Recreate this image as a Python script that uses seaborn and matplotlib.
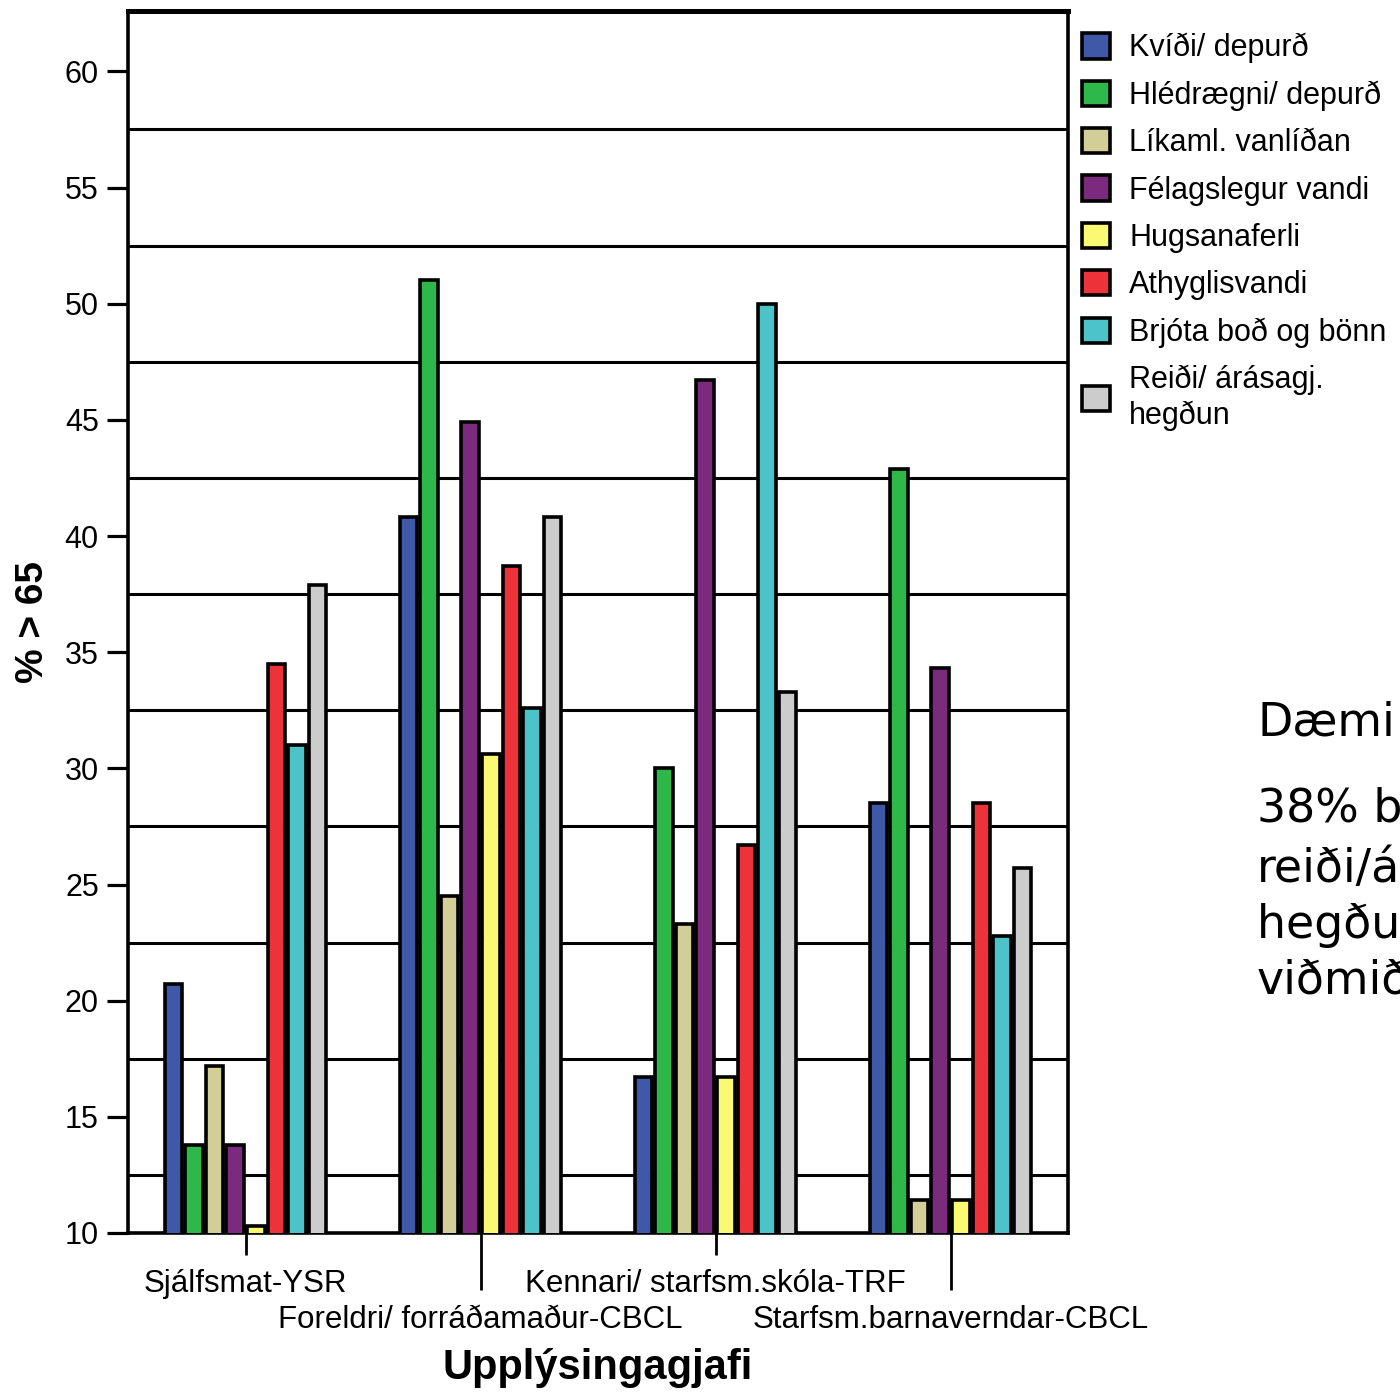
import matplotlib
matplotlib.use('Agg')
import matplotlib.pyplot as plt
import seaborn as sns
import pandas as pd

# Data (% > 65)
groups = ['Sjálfsmat-YSR', 'Foreldri/ forráðamaður-CBCL',
          'Kennari/ starfsm.skóla-TRF', 'Starfsm.barnaverndar-CBCL']
scales = ['Kvíði/ depurð', 'Hlédrægni/ depurð', 'Líkaml. vanlíðan',
          'Félagslegur vandi', 'Hugsanaferli', 'Athyglisvandi',
          'Brjóta boð og bönn', 'Reiði/ árásagj.\nhegðun']
colors = ['#3f58a8', '#2eb84a', '#d3cd98', '#7b2a7e',
          '#fbf972', '#ee3239', '#4bc3c8', '#cccccc']
ysr = [20.7, 13.8, 17.2, 13.8, 10.3, 34.5, 31.0, 37.9]
cbcl_parents = [40.8, 51.0, 24.5, 44.9, 30.6, 38.7, 32.6, 40.8]
trf = [16.7, 30.0, 23.3, 46.7, 16.7, 26.7, 50.0, 33.3]
cbcl_staff = [28.5, 42.9, 11.4, 34.3, 11.4, 28.5, 22.8, 25.7]

rows = []
for g, vals in zip(groups, [ysr, cbcl_parents, trf, cbcl_staff]):
    for s, v in zip(scales, vals):
        rows.append({'group': g, 'scale': s, 'value': v})
df = pd.DataFrame(rows)

sns.set_style('white')
plt.rcParams['font.family'] = ['Liberation Sans', 'DejaVu Sans']
plt.rcParams['text.color'] = 'black'
plt.rcParams['axes.labelcolor'] = 'black'
plt.rcParams['xtick.color'] = 'black'
plt.rcParams['ytick.color'] = 'black'

fig = plt.figure(figsize=(14, 13.94), dpi=100)
ax = fig.add_axes([128 / 1400, 1 - 1233 / 1394, 940 / 1400, 1222 / 1394])

sns.barplot(data=df, x='group', y='value', hue='scale', order=groups,
            hue_order=scales, palette=dict(zip(scales, colors)),
            saturation=1, width=0.7, gap=0.15, edgecolor='black',
            linewidth=2.6, ax=ax, zorder=3)

ax.set_xlim(-0.5, 3.5)
ax.set_ylim(10, 62.6)

# y axis: ticks every 5, black grid lines on the half steps
ax.set_yticks(range(10, 61, 5))
ax.set_yticks([12.5 + 5 * i for i in range(10)], minor=True)
ax.grid(False)
ax.grid(which='minor', axis='y', color='black', linewidth=2.2, zorder=1)
ax.set_axisbelow(True)
ax.tick_params(axis='y', which='major', direction='out', length=15, width=2.3,
               labelsize=22, pad=6, left=True, color='black')
ax.tick_params(axis='y', which='minor', length=0)

# x axis: staggered labels via major/minor ticks
ax.set_xticks([0, 2], labels=[groups[0], groups[2]])
ax.set_xticks([1, 3], labels=[groups[1], groups[3]], minor=True)
ax.tick_params(axis='x', which='major', direction='out', length=16, width=2,
               labelsize=22.5, pad=10, bottom=True, color='black')
ax.tick_params(axis='x', which='minor', direction='out', length=41, width=2,
               labelsize=22.5, pad=10.5, bottom=True, color='black')

for side in ['left', 'right', 'bottom']:
    ax.spines[side].set_linewidth(2.6)
    ax.spines[side].set_color('black')
ax.spines['top'].set_linewidth(3.6)
ax.spines['top'].set_color('black')

ax.set_xlabel('Upplýsingagjafi', fontsize=30, fontweight='bold', labelpad=10)
ax.set_ylabel('% > 65', fontsize=28, fontweight='bold', labelpad=10)

handles, labels = ax.get_legend_handles_labels()
ax.legend(handles, labels, loc='upper left',
          bbox_to_anchor=(1082 / 1400, 1 - 33 / 1394),
          bbox_transform=fig.transFigure, frameon=False, fontsize=22,
          handlelength=0.9, handleheight=0.9, handletextpad=0.65,
          labelspacing=0.56, borderpad=0, borderaxespad=0)

# side note, runs past the right edge as in the slide
fig.text(1257 / 1400, 1 - 700 / 1394, 'Dæmi', family='DejaVu Sans',
         fontsize=33, va='top', ha='left')
fig.text(1257 / 1400, 1 - 787 / 1394,
         '38% barna\nreiði/árásagj.\nhegðun yfir\nviðmiðunarmörkum',
         family='DejaVu Sans', fontsize=33, va='top', ha='left',
         linespacing=1.32)

plt.savefig('out.png', dpi=100)
